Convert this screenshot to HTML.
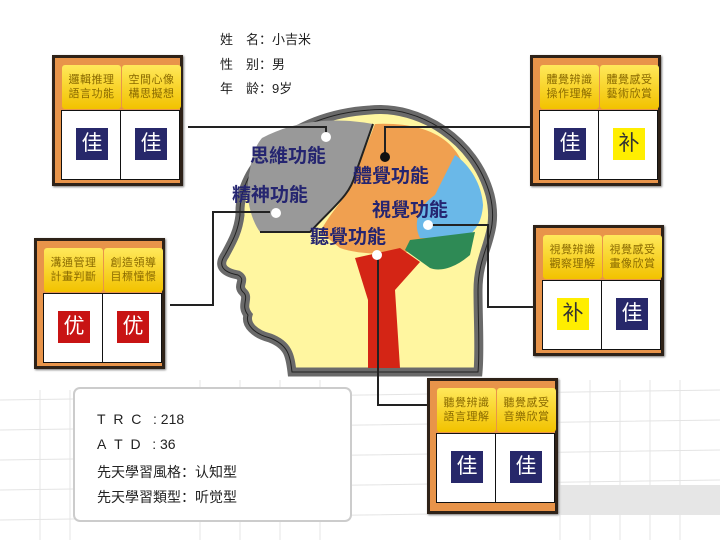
<!DOCTYPE html>
<html><head><meta charset="utf-8"><style>
body{margin:0;width:720px;height:540px;overflow:hidden;background:#fff;font-family:"Liberation Sans","Noto Sans CJK TC",sans-serif;position:relative}
.box{position:absolute;width:131px;height:131px;background:#e8944a;border:3px solid #2e2218;box-sizing:border-box;box-shadow:1px 1px 2px #777}
.h{position:absolute;top:7px;width:59px;height:44px;background:linear-gradient(#ffe85a,#f2c200);border-radius:3px;font-size:11px;line-height:14px;color:#8a6a00;text-align:center;padding-top:8px;box-sizing:border-box;letter-spacing:0.5px}
.c{position:absolute;top:52px;width:60px;height:70px;background:#fff;border:1px solid #111;box-sizing:border-box}
.t{position:absolute;left:14px;top:17px;width:32px;height:32px;font-size:21px;line-height:32px;text-align:center;font-family:"Liberation Sans","Noto Sans CJK SC",sans-serif}
.b{background:#27286a;color:#fff}.y{background:#ffee00;color:#333}.r{background:#c81414;color:#fff}
.info{position:absolute;left:73px;top:387px;width:279px;height:135px;border:2px solid #ccc;border-radius:7px;background:#fff;box-sizing:border-box;font-size:14px;color:#222;font-family:"Liberation Sans","Noto Sans CJK SC",sans-serif}
.info div{position:absolute;left:22px}
.top{position:absolute;left:220px;font-size:13px;color:#222;font-family:"Liberation Sans","Noto Sans CJK SC",sans-serif}
</style></head><body>
<svg width="720" height="540" style="position:absolute;left:0;top:0">
<g stroke="#e4e4e4" stroke-width="1" fill="none">
<path d="M0 400 L720 390 M0 430 L720 420 M0 460 L720 450 M0 490 L720 480 M0 520 L720 510"/>
<path d="M40 390V540 M70 390V540 M200 380V540 M240 380V540 M280 380V540 M320 380V540 M560 380V540 M590 380V540 M620 380V540 M650 380V540 M680 380V540"/>
</g>
<rect x="560" y="485" width="160" height="30" fill="#e6e6e6"/>
<path d="M370 110 C420 105 475 140 490 195 C500 235 478 250 478 290 C478 320 480 350 478 372 L292 372 C290 355 288 345 270 338 C255 334 245 325 248 315 C240 305 250 298 243 292 C236 285 247 280 238 275 C222 272 218 265 225 255 C232 242 238 232 240 215 C238 165 290 115 370 110 Z" fill="#fff6a0" stroke="#6a6a6a" stroke-width="9"/>
<path d="M370 110 C420 105 475 140 490 195 C500 235 478 250 478 290 C478 320 480 350 478 372 L292 372 C290 355 288 345 270 338 C255 334 245 325 248 315 C240 305 250 298 243 292 C236 285 247 280 238 275 C222 272 218 265 225 255 C232 242 238 232 240 215 C238 165 290 115 370 110 Z" fill="none" stroke="#222" stroke-width="1"/>
<path d="M262 138 C300 118 340 118 373 124 L355 175 C350 195 335 205 310 232 L260 232 C248 215 245 190 250 170 C252 155 256 145 262 138 Z" fill="#999"/>
<path d="M375 124 C420 122 450 135 462 162 L478 200 L470 240 L420 250 C390 255 360 255 340 248 L320 232 C335 205 350 195 355 175 Z" fill="#f0a050"/>
<path d="M455 155 C470 165 482 185 483 205 C482 222 475 232 465 238 L420 238 C412 222 420 205 435 195 Z" fill="#6ab8e8"/>
<path d="M410 240 L475 232 L470 255 C455 268 440 272 430 268 L405 250 Z" fill="#2e8a55"/>
<path d="M355 258 L400 248 L420 262 L395 290 L400 368 L368 368 L368 300 Z" fill="#d42515"/>
<path d="M373 124 L355 175 C350 195 335 205 310 232 L260 232" fill="none" stroke="#222" stroke-width="2"/>
<g stroke="#222" stroke-width="2" fill="none">
<path d="M188 127 H326 V137"/><path d="M530 127 H385 V157"/>
<path d="M170 305 H213 V212 H270"/><path d="M428 225 H488 V307 H533"/>
<path d="M378 255 V405 H427"/>
</g>
<circle cx="326" cy="137" r="5" fill="#fff"/><circle cx="385" cy="157" r="5" fill="#111"/>
<circle cx="276" cy="213" r="5" fill="#fff"/><circle cx="428" cy="225" r="5" fill="#fff"/>
<circle cx="377" cy="255" r="5" fill="#fff"/>
<g font-family="Liberation Sans,Noto Sans CJK TC,sans-serif" font-size="19" fill="#252570" font-weight="bold">
<text x="250" y="162">思維功能</text><text x="232" y="201">精神功能</text>
<text x="353" y="182">體覺功能</text><text x="372" y="216">視覺功能</text>
<text x="310" y="243">聽覺功能</text></g>
</svg>
<div class="top" style="top:29px">姓　名：小吉米</div>
<div class="top" style="top:54px">性　别：男</div>
<div class="top" style="top:78px">年　龄：9岁</div>

<div class="box" style="left:52px;top:55px"><div class="h" style="left:7px">邏輯推理<br>語言功能</div><div class="h" style="left:67px">空間心像<br>構思擬想</div><div class="c" style="left:6px"><div class="t b">佳</div></div><div class="c" style="left:65px"><div class="t b">佳</div></div></div>
<div class="box" style="left:530px;top:55px"><div class="h" style="left:7px">體覺辨識<br>操作理解</div><div class="h" style="left:67px">體覺感受<br>藝術欣賞</div><div class="c" style="left:6px"><div class="t b">佳</div></div><div class="c" style="left:65px"><div class="t y">补</div></div></div>
<div class="box" style="left:34px;top:238px"><div class="h" style="left:7px">溝通管理<br>計畫判斷</div><div class="h" style="left:67px">創造領導<br>目標憧憬</div><div class="c" style="left:6px"><div class="t r">优</div></div><div class="c" style="left:65px"><div class="t r">优</div></div></div>
<div class="box" style="left:533px;top:225px"><div class="h" style="left:7px">視覺辨識<br>觀察理解</div><div class="h" style="left:67px">視覺感受<br>畫像欣賞</div><div class="c" style="left:6px"><div class="t y">补</div></div><div class="c" style="left:65px"><div class="t b">佳</div></div></div>
<div class="box" style="left:427px;top:378px;height:136px"><div class="h" style="left:7px">聽覺辨識<br>語言理解</div><div class="h" style="left:67px">聽覺感受<br>音樂欣賞</div><div class="c" style="left:6px"><div class="t b">佳</div></div><div class="c" style="left:65px"><div class="t b">佳</div></div></div>

<div class="info">
<div style="top:22px">T&nbsp;&nbsp;R&nbsp;&nbsp;C&nbsp;&nbsp;&nbsp;: 218</div>
<div style="top:47px">A&nbsp;&nbsp;T&nbsp;&nbsp;D&nbsp;&nbsp;&nbsp;: 36</div>
<div style="top:73px">先天學習風格：认知型</div>
<div style="top:98px">先天學習類型：听觉型</div>
</div>
</body></html>
